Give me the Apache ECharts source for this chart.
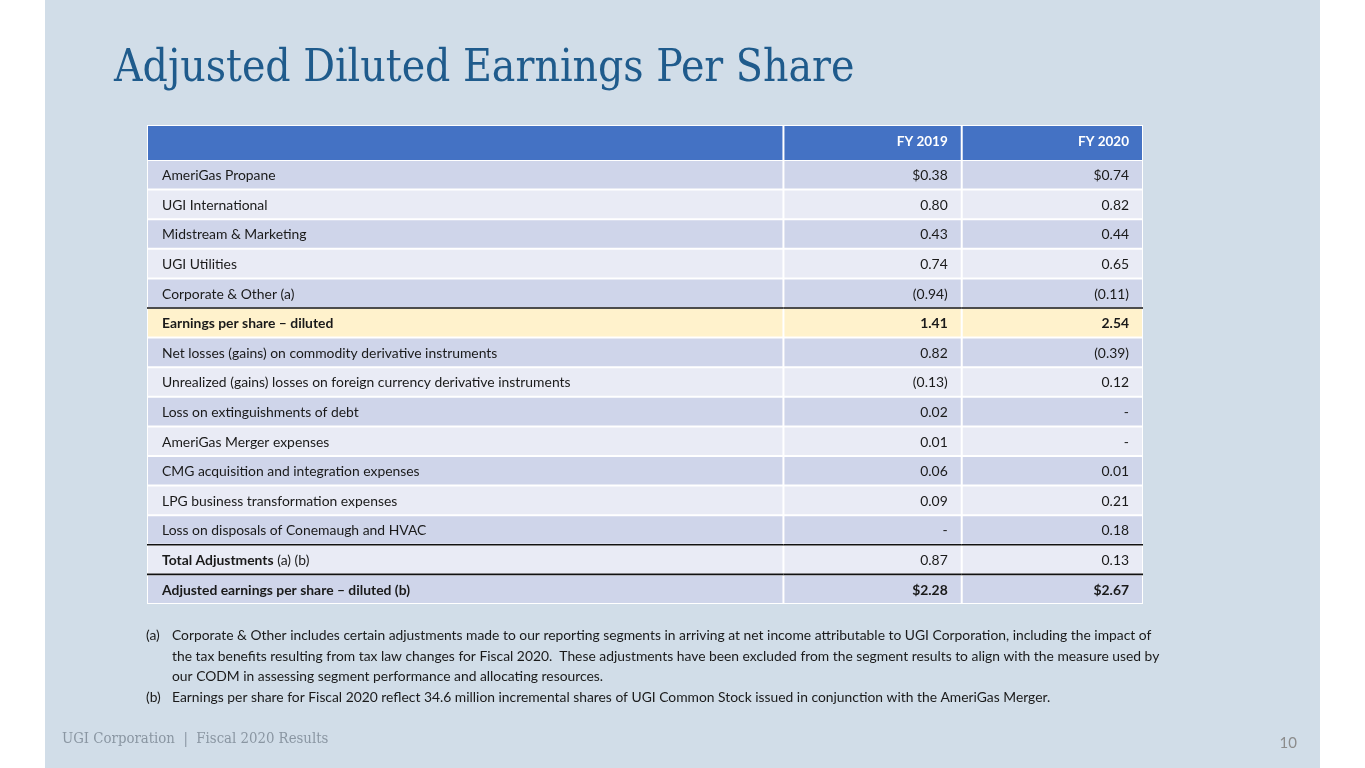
<!DOCTYPE html>
<html>
<head>
<meta charset="utf-8">
<script src="https://cdn.jsdelivr.net/npm/echarts@6/dist/echarts.min.js"></script>
<style>
  html, body { margin: 0; padding: 0; background: #fff; }
  #main { width: 1365px; height: 768px; }
</style>
</head>
<body>
<div id="main"></div>
<script>
// table data
var columns = ['', 'FY 2019', 'FY 2020'];
var rowLabels = [
    'AmeriGas Propane',
    'UGI International',
    'Midstream & Marketing',
    'UGI Utilities',
    'Corporate & Other (a)',
    'Earnings per share – diluted',
    'Net losses (gains) on commodity derivative instruments',
    'Unrealized (gains) losses on foreign currency derivative instruments',
    'Loss on extinguishments of debt',
    'AmeriGas Merger expenses',
    'CMG acquisition and integration expenses',
    'LPG business transformation expenses',
    'Loss on disposals of Conemaugh and HVAC',
    'Total Adjustments (a) (b)',
    'Adjusted earnings per share – diluted (b)'
];
var fy2019 = [0.38, 0.80, 0.43, 0.74, -0.94, 1.41, 0.82, -0.13, 0.02, 0.01, 0.06, 0.09, null, 0.87, 2.28];
var fy2020 = [0.74, 0.82, 0.44, 0.65, -0.11, 2.54, -0.39, 0.12, null, null, 0.01, 0.21, 0.18, 0.13, 2.67];
var dollarRows = [0, 14];

var footnotes = [
    ['(a)', 'Corporate & Other includes certain adjustments made to our reporting segments in arriving at net income attributable to UGI Corporation, including the impact of\nthe tax benefits resulting from tax law changes for Fiscal 2020.  These adjustments have been excluded from the segment results to align with the measure used by\nour CODM in assessing segment performance and allocating resources.'],
    ['(b)', 'Earnings per share for Fiscal 2020 reflect 34.6 million incremental shares of UGI Common Stock issued in conjunction with the AmeriGas Merger.']
];

// layout / style
var colEdges = [0, 63.9, 81.8, 100];
var boldRows = [5, 14];
var highlightRow = 5;
var ruleRows = [5, 13, 14];
var tableFont = 'Lato';
var serifFont = 'DejaVu Serif Condensed';

function fmt(v, r) {
    if (v === null) return '-';
    var s = Math.abs(v).toFixed(2);
    if (dollarRows.indexOf(r) >= 0) s = '$' + s;
    return v < 0 ? '(' + s + ')' : s;
}

var bodyData = [];
rowLabels.forEach(function (name, r) {
    bodyData.push([0, r]);
    bodyData.push([1, r]);
    bodyData.push([2, r]);
});

function cellText(c, r) {
    if (c === 0) {
        if (r === 13) return '{b|Total Adjustments} (a) (b)';
        return boldRows.indexOf(r) >= 0 ? '{b|' + rowLabels[r] + '}' : rowLabels[r];
    }
    var v = fmt(c === 1 ? fy2019[r] : fy2020[r], r);
    return boldRows.indexOf(r) >= 0 ? '{b|' + v + '}' : v;
}

function renderBody(params, api) {
    var c = api.value(0), r = api.value(1);
    var yc = api.coord([0, r])[1];
    var h = api.size([0, 1])[1];
    var x0 = api.coord([colEdges[c], r])[0];
    var x1 = api.coord([colEdges[c + 1], r])[0];
    var fill = r === highlightRow ? '#fff2cc' : (r % 2 === 0 ? '#cfd5ea' : '#e9ebf5');
    var children = [{
        type: 'rect',
        shape: { x: x0 + 1, y: yc - h / 2 + 1, width: x1 - x0 - 2, height: h - 2 },
        style: { fill: fill }
    }, {
        type: 'text',
        x: c === 0 ? x0 + 15 : x1 - 14,
        y: yc + 1,
        style: {
            text: cellText(c, r),
            align: c === 0 ? 'left' : 'right',
            verticalAlign: 'middle',
            fill: '#1a1a1a',
            fontFamily: tableFont,
            fontSize: 13.9,
            rich: { b: { fontWeight: 'bold', fontFamily: tableFont, fontSize: 13.9, fill: '#1a1a1a' } }
        }
    }];
    if (ruleRows.indexOf(r) >= 0) {
        children.push({
            type: 'line',
            shape: { x1: x0, y1: yc - h / 2, x2: x1, y2: yc - h / 2 },
            style: { stroke: '#111', lineWidth: 1.6 }
        });
    }
    return { type: 'group', children: children };
}

function renderHead(params, api) {
    var c = api.value(0);
    var yc = api.coord([0, 0])[1];
    var h = api.size([0, 1])[1];
    var x0 = api.coord([colEdges[c], 0])[0];
    var x1 = api.coord([colEdges[c + 1], 0])[0];
    return {
        type: 'group',
        children: [{
            type: 'rect',
            shape: { x: x0 + 1, y: yc - h / 2 + 1, width: x1 - x0 - 2, height: h - 2 },
            style: { fill: '#4472c4' }
        }, {
            type: 'text',
            x: x1 - 14,
            y: yc - 1,
            style: {
                text: columns[c],
                align: 'right',
                verticalAlign: 'middle',
                fill: '#fff',
                fontWeight: 'bold',
                fontFamily: tableFont,
                fontSize: 13.5
            }
        }]
    };
}

var option = {
    backgroundColor: '#ffffff',
    animation: false,
    grid: [
        { left: 147, top: 125, width: 996, height: 36, show: true, backgroundColor: '#fff', borderWidth: 0 },
        { left: 147, top: 160, width: 996, height: 444, show: true, backgroundColor: '#fff', borderWidth: 0 }
    ],
    xAxis: [
        { type: 'value', gridIndex: 0, min: 0, max: 100, show: false },
        { type: 'value', gridIndex: 1, min: 0, max: 100, show: false }
    ],
    yAxis: [
        { type: 'category', gridIndex: 0, data: ['head'], show: false },
        { type: 'category', gridIndex: 1, data: rowLabels, inverse: true, show: false }
    ],
    series: [
        { type: 'custom', xAxisIndex: 0, yAxisIndex: 0, data: [[0, 0], [1, 0], [2, 0]], renderItem: renderHead },
        { type: 'custom', xAxisIndex: 1, yAxisIndex: 1, data: bodyData, renderItem: renderBody }
    ],
    graphic: [
        { type: 'rect', z: -10, shape: { x: 45, y: 0, width: 1275, height: 768 }, style: { fill: '#d1dde8' } },
        {
            type: 'text', x: 114, y: 70,
            style: { text: 'Adjusted Diluted Earnings Per Share', fill: '#1f5b8c', fontFamily: serifFont, fontSize: 44, verticalAlign: 'middle' }
        },
        {
            type: 'text', x: 146, y: 625,
            style: { text: footnotes[0][0] + '\n\n\n' + footnotes[1][0], fill: '#1a1a1a', fontFamily: tableFont, fontSize: 13.85, lineHeight: 20.8 }
        },
        {
            type: 'text', x: 172, y: 625,
            style: { text: footnotes[0][1] + '\n' + footnotes[1][1], fill: '#1a1a1a', fontFamily: tableFont, fontSize: 13.85, lineHeight: 20.8 }
        },
        {
            type: 'text', x: 62, y: 739,
            style: { text: 'UGI Corporation  |  Fiscal 2020 Results', fill: '#8a96a2', fontFamily: serifFont, fontSize: 14.8, verticalAlign: 'middle' }
        },
        {
            type: 'text', x: 1297, y: 743,
            style: { text: '10', fill: '#8c8c8c', fontFamily: tableFont, fontSize: 15, align: 'right', verticalAlign: 'middle' }
        }
    ]
};

var myChart = echarts.init(document.getElementById('main'));
myChart.setOption(option);
</script>
</body>
</html>
